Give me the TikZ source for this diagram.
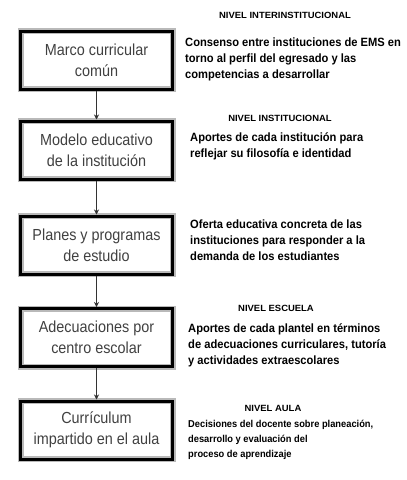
\documentclass[tikz,border=0pt]{standalone}
\usepackage{fontspec}
\usepackage{tikz}
\usetikzlibrary{arrows.meta}
\newfontfamily\boxfont[FakeStretch=0.9]{Liberation Sans}
\newfontfamily\notefont[FakeStretch=0.93]{Liberation Sans}
\newfontfamily\nivelfont[FakeStretch=1.05]{Liberation Sans}

\begin{document}
\begin{tikzpicture}[x=1pt,y=-1pt]
				\tikzset{etapa/.style={draw=black,line width=3pt,preaction={draw=gray!55,line width=6pt},
						minimum width=152pt,minimum height=58pt,align=center,text=black!75,
						font=\boxfont\fontsize{16}{21}\selectfont}}
				\tikzset{nivel/.style={inner sep=0pt,font=\nivelfont\bfseries\fontsize{9}{10}\selectfont}}
				\tikzset{nota/.style={anchor=north west,inner sep=0pt,align=left,
						font=\notefont\bfseries\fontsize{12}{16}\selectfont}}
				\tikzset{flecha/.style={draw=black!80,line width=0.9pt,-{Stealth[length=5pt,width=5pt]}}}
				\useasboundingbox (0,0) rectangle (407,480);
				% columna de etapas
				\node[etapa] (marco) at (96.5,60) {Marco curricular\\común};
				\node[etapa] (modelo) at (96.5,150) {Modelo educativo\\de la institución};
				\node[etapa] (planes) at (96.5,245) {Planes y programas\\de estudio};
				\node[etapa] (adecuaciones) at (96.5,337.5) {Adecuaciones por\\centro escolar};
				\node[etapa] (aula) at (96.5,430) {Currículum\\impartido en el aula};
				\draw[flecha] (marco) -- (modelo);
				\draw[flecha] (modelo) -- (planes);
				\draw[flecha] (planes) -- (adecuaciones);
				\draw[flecha] (adecuaciones) -- (aula);
				% niveles y descripciones
				\node[nivel] (nivelinter) at (285,15) {NIVEL INTERINSTITUCIONAL};
				\node[nota] (notamarco) at (185,38) {Consenso entre instituciones de EMS en\\torno al perfil del egresado y las\\competencias a desarrollar};
				\node[nivel] (nivelinst) at (280,118) {NIVEL INSTITUCIONAL};
				\node[nota] (notamodelo) at (190,132) {Aportes de cada institución para\\reflejar su filosofía e identidad};
				\node[nota] (notaplanes) at (190,220) {Oferta educativa concreta de las\\instituciones para responder a la\\demanda de los estudiantes};
				\node[nivel] (nivelescuela) at (276,308) {NIVEL ESCUELA};
				\node[nota] (notaadec) at (188,323) {Aportes de cada plantel en términos\\de adecuaciones curriculares, tutoría\\y actividades extraescolares};
				\node[nivel] (nivelaula) at (273,408) {NIVEL AULA};
				\node[nota,font=\notefont\bfseries\fontsize{10}{15}\selectfont] (notaaula) at (188,420) {Decisiones del docente sobre planeación,\\desarrollo y evaluación del\\proceso de aprendizaje};
			\end{tikzpicture}
\end{document}
